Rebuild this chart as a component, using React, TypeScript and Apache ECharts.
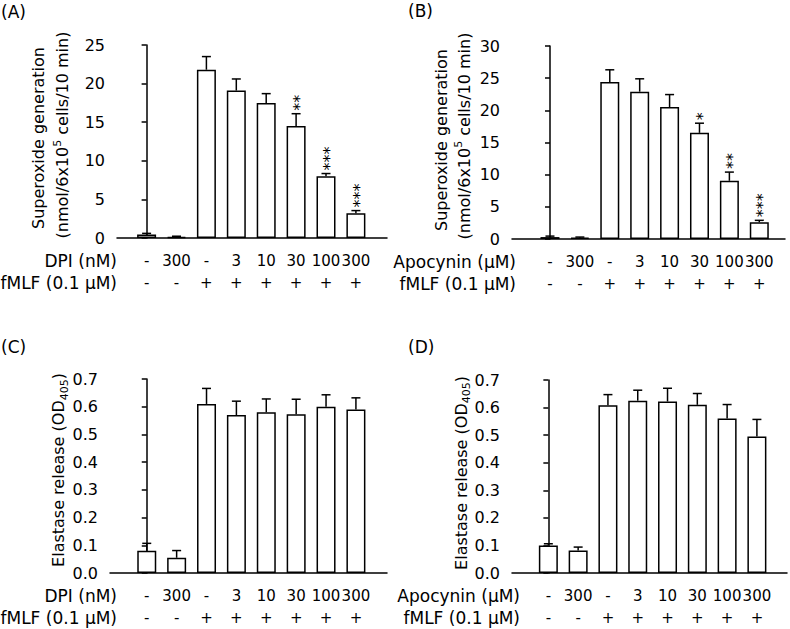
import React, { useEffect, useRef } from 'react';
import * as echarts from 'echarts';

const FONT = 'DejaVu Sans';

// ---- data ----
const dpiLabels = ['-', '300', '-', '3', '10', '30', '100', '300'];
const apocyninLabels = ['-', '300', '-', '3', '10', '30', '100', '300'];
const fmlfLabels = ['-', '-', '+', '+', '+', '+', '+', '+'];

const superoxideDPI = [0.45, 0.15, 21.8, 19.1, 17.5, 14.5, 8.0, 3.2];
const superoxideDPIErr = [0.15, 0.08, 1.7, 1.5, 1.2, 1.6, 0.35, 0.35];
const superoxideDPISig = ['', '', '', '', '', '**', '***', '***'];

const superoxideApo = [0.3, 0.2, 24.4, 22.9, 20.5, 16.5, 9.05, 2.6];
const superoxideApoErr = [0.15, 0.1, 1.9, 2.0, 1.95, 1.5, 1.35, 0.3];
const superoxideApoSig = ['', '', '', '', '', '*', '**', '***'];

const elastaseDPI = [0.08, 0.055, 0.61, 0.57, 0.58, 0.573, 0.6, 0.59];
const elastaseDPIErr = [0.027, 0.026, 0.056, 0.05, 0.048, 0.054, 0.043, 0.042];
const elastaseDPISig = ['', '', '', '', '', '', '', ''];

const elastaseApo = [0.1, 0.082, 0.608, 0.625, 0.622, 0.61, 0.56, 0.495];
const elastaseApoErr = [0.006, 0.012, 0.039, 0.038, 0.048, 0.041, 0.051, 0.062];
const elastaseApoSig = ['', '', '', '', '', '', '', ''];

// ---- layout ----
type Panel = {
  letter: string;
  letterX: number;
  letterY: number;
  values: number[];
  errors: number[];
  sig: string[];
  treat: string[];
  treatName: string;
  yMax: number;
  yInterval: number;
  decimals: number;
  left: number;
  top: number;
  width: number;
  height: number;
  xMin: number;
  xMax: number;
  rowRight: number;
  titleLines: { x: number; y: number; rich: string }[];
};

const superTitle1 = 'Superoxide generation';
const superTitle2 = '{n|(nmol/6x10}{s|5}{n| cells/10 min)}';
const elastaseTitle = '{n|Elastase release (OD}{b|405}{n|)}';

const panels: Panel[] = [
  {
    letter: '(A)', letterX: 1, letterY: 12,
    values: superoxideDPI, errors: superoxideDPIErr, sig: superoxideDPISig,
    treat: dpiLabels, treatName: 'DPI (nM)',
    yMax: 25, yInterval: 5, decimals: 0,
    left: 117, top: 45, width: 270, height: 193,
    xMin: -0.99, xMax: 8.04, rowRight: 117,
    titleLines: [
      { x: 38.5, y: 138, rich: superTitle1 },
      { x: 62.5, y: 135, rich: superTitle2 },
    ],
  },
  {
    letter: '(B)', letterX: 408, letterY: 11,
    values: superoxideApo, errors: superoxideApoErr, sig: superoxideApoSig,
    treat: apocyninLabels, treatName: 'Apocynin (\u03bcM)',
    yMax: 30, yInterval: 5, decimals: 0,
    left: 512, top: 46, width: 273, height: 193,
    xMin: -1.27, xMax: 7.86, rowRight: 516,
    titleLines: [
      { x: 441, y: 140, rich: superTitle1 },
      { x: 464, y: 136, rich: superTitle2 },
    ],
  },
  {
    letter: '(C)', letterX: 1, letterY: 347,
    values: elastaseDPI, errors: elastaseDPIErr, sig: elastaseDPISig,
    treat: dpiLabels, treatName: 'DPI (nM)',
    yMax: 0.7, yInterval: 0.1, decimals: 1,
    left: 110, top: 379, width: 277, height: 194,
    xMin: -1.23, xMax: 8.04, rowRight: 117,
    titleLines: [{ x: 58.5, y: 470, rich: elastaseTitle }],
  },
  {
    letter: '(D)', letterX: 408, letterY: 347,
    values: elastaseApo, errors: elastaseApoErr, sig: elastaseApoSig,
    treat: apocyninLabels, treatName: 'Apocynin (\u03bcM)',
    yMax: 0.7, yInterval: 0.1, decimals: 1,
    left: 512, top: 380, width: 275, height: 193,
    xMin: -1.22, xMax: 8.01, rowRight: 520,
    titleLines: [{ x: 461, y: 473, rich: elastaseTitle }],
  },
];

const textBase = { fill: '#000', fontFamily: FONT, fontSize: 16 };
const textLarge = { fill: '#000', fontFamily: FONT, fontSize: 17 };

function buildOption() {
  const grid: any[] = [];
  const xAxis: any[] = [];
  const yAxis: any[] = [];
  const series: any[] = [];
  const graphic: any[] = [];

  panels.forEach((p, k) => {
    grid.push({ left: p.left, top: p.top, width: p.width, height: p.height, containLabel: false });
    xAxis.push({
      type: 'value', gridIndex: k, min: p.xMin, max: p.xMax,
      splitLine: { show: false },
      axisTick: { show: false },
      axisLine: { show: true, onZero: false, lineStyle: { color: '#000', width: 1.5 } },
      axisLabel: {
        show: true,
        customValues: [0, 1, 2, 3, 4, 5, 6, 7],
        hideOverlap: false,
        showMinLabel: true,
        showMaxLabel: true,
        margin: 11.5,
        lineHeight: 22,
        color: '#000', fontFamily: FONT, fontSize: 15,
        formatter: (v: number) => {
          const i = Math.round(v);
          return p.treat[i] + '\n' + fmlfLabels[i];
        },
      },
    });
    yAxis.push({
      type: 'value', gridIndex: k, min: 0, max: p.yMax, interval: p.yInterval,
      splitLine: { show: false },
      axisLine: { show: true, lineStyle: { color: '#000', width: 1.5 } },
      axisTick: { show: true, length: 5, inside: false, lineStyle: { color: '#000', width: 1.5 } },
      axisLabel: {
        color: '#000', fontFamily: FONT, fontSize: 16, margin: 12,
        hideOverlap: false,
        formatter: (v: number) => v.toFixed(p.decimals),
      },
    });
    series.push({
      type: 'bar', xAxisIndex: k, yAxisIndex: k,
      barWidth: 19,
      data: p.values.map((v, i) => [i, v]),
      itemStyle: { color: '#fff', borderColor: '#000', borderWidth: 1.5 },
      z: 2,
    });
    series.push({
      type: 'custom', xAxisIndex: k, yAxisIndex: k, z: 3,
      itemStyle: { color: '#000' },
      data: p.values.map((v, i) => [i, v, p.errors[i]]),
      renderItem: (params: any, api: any) => {
        const x = api.value(0);
        const y = api.value(1);
        const e = api.value(2);
        const base = api.coord([x, y]);
        const top = api.coord([x, y + e]);
        const ls = { stroke: '#000', lineWidth: 1.5 };
        const children: any[] = [
          { type: 'line', shape: { x1: base[0], y1: base[1], x2: top[0], y2: top[1] }, style: ls },
          { type: 'line', shape: { x1: top[0] - 4.5, y1: top[1], x2: top[0] + 4.5, y2: top[1] }, style: ls },
        ];
        const star = p.sig[params.dataIndex];
        if (star) {
          children.push({
            type: 'text', x: top[0] + 3.5, y: top[1] - 3, rotation: Math.PI / 2,
            style: {
              text: star,
              fill: '#000', fontSize: 16, fontFamily: FONT,
              align: 'left', verticalAlign: 'middle',
              textAlign: 'left', textVerticalAlign: 'middle',
            },
          });
        }
        return { type: 'group', children };
      },
    });

    // panel letter
    graphic.push({
      type: 'text', x: p.letterX, y: p.letterY,
      style: { ...textLarge, text: p.letter, align: 'left', verticalAlign: 'middle' },
    });
    // row labels
    const row1 = p.top + p.height + 22.5;
    graphic.push({
      type: 'text', x: p.rowRight, y: row1,
      style: { ...textLarge, text: p.treatName, align: 'right', verticalAlign: 'middle' },
    });
    graphic.push({
      type: 'text', x: p.rowRight, y: row1 + 22,
      style: { ...textLarge, text: 'fMLF (0.1 \u03bcM)', align: 'right', verticalAlign: 'middle' },
    });
    // y titles
    p.titleLines.forEach((t) => {
      graphic.push({
        type: 'text', x: t.x, y: t.y, rotation: Math.PI / 2,
        style: {
          ...textBase,
          text: t.rich,
          align: 'center', verticalAlign: 'middle',
          rich: {
            n: { fill: '#000', fontFamily: FONT, fontSize: 16, lineHeight: 22 },
            s: { fill: '#000', fontFamily: FONT, fontSize: 11, lineHeight: 11, verticalAlign: 'top' },
            b: { fill: '#000', fontFamily: FONT, fontSize: 11, lineHeight: 11, verticalAlign: 'bottom' },
          },
        },
      });
    });
  });

  return {
    animation: false,
    backgroundColor: '#fff',
    textStyle: { fontFamily: FONT, color: '#000' },
    grid, xAxis, yAxis, series, graphic,
  };
}

export default function App() {
  const ref = useRef<HTMLDivElement>(null);
  useEffect(() => {
    if (!ref.current) return;
    const chart = echarts.init(ref.current, undefined, { renderer: 'svg' });
    chart.setOption(buildOption() as any);
    return () => chart.dispose();
  }, []);
  return (
    <div
      ref={ref}
      style={{ position: 'fixed', left: 0, top: 0, width: 790, height: 629, background: '#fff' }}
    />
  );
}
